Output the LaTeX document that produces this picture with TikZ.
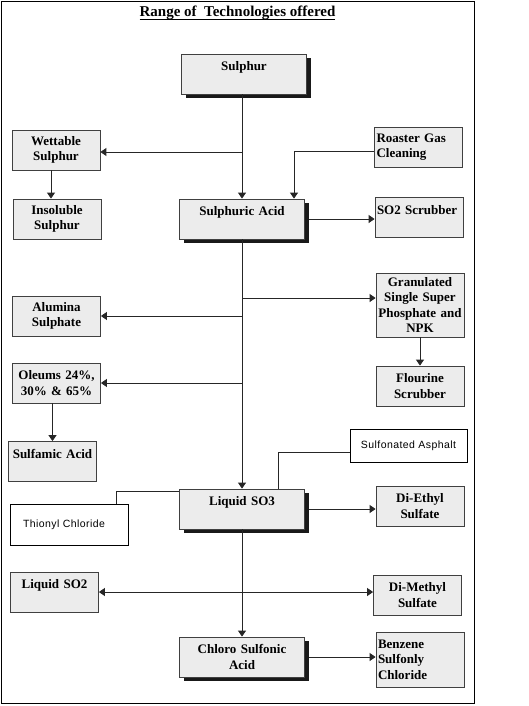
\documentclass[tikz,border=0pt]{standalone}
\usepackage{fontspec}
\setmainfont{Liberation Serif}
\newfontfamily\notesans[LetterSpace=4]{Liberation Sans}
\usetikzlibrary{arrows.meta,positioning,shadows}
\definecolor{boxgray}{RGB}{236,236,236}
\newcommand{\titleul}[1]{\setbox0\hbox{#1}\rlap{\rule[-3.5pt]{\wd0}{1.4pt}}\box0}

\begin{document}
\begin{tikzpicture}[
  x=1pt,y=-1pt,>={Triangle[width=8pt,length=6pt]},
  item/.style={draw=black!75,line width=0.8pt,fill=boxgray,
    align=center,font=\bfseries\fontsize{13}{15.5}\selectfont,
    inner xsep=2pt,inner ysep=0pt,text width=84pt,minimum height=40pt},
  itemleft/.style={item,align=left},
  main/.style={item,text width=121pt,
    drop shadow={shadow xshift=4pt,shadow yshift=-4pt,opacity=1,fill=black!90}},
  note/.style={draw=black,line width=0.8pt,fill=white,align=center,
    font=\notesans\fontsize{10.5}{12}\selectfont,
    inner xsep=3pt,inner ysep=0pt,minimum height=33pt},
  link/.style={line width=0.9pt,draw=black!85}
]
\useasboundingbox (0,0) rectangle (528,706);
\draw[line width=0.8pt] (1,1) rectangle (474,703);
\node[anchor=base,font=\bfseries\fontsize{15}{18}\selectfont] (title) at (237.5,17)
  {\titleul{Range of~ Technologies offered}};

% upper part
\node[main]     (sulphur)   at (244,74)    {Sulphur\\\mbox{}};
\node[item]     (wettable)  at (56,150)    {Wettable\\Sulphur};
\node[itemleft] (roaster)   at (418.5,147) {Roaster Gas\\Cleaning};
\node[item]     (insoluble) at (57,219)    {Insoluble\\Sulphur};
\node[main]     (acid)      at (242,219)   {Sulphuric Acid\\\mbox{}};
\node[itemleft] (scrubber)  at (419,217.5) {SO2 Scrubber\\\mbox{}};

% middle part
\node[item,minimum height=64pt] (ssp) at (420,305)
  {Granulated\\Single Super\\Phosphate and\\NPK};
\node[item]     (alumina)   at (56.5,316)  {Alumina\\Sulphate};
\node[item]     (oleums)    at (56.5,383)  {Oleums 24\%,\\30\% \& 65\%};
\node[item]     (fluorine)  at (420,386)   {Flourine\\Scrubber};
\node[item]     (sulfamic)  at (52.5,461.5) {Sulfamic Acid\\\mbox{}};
\node[note,text width=111pt] (asphalt) at (408.5,445.5) {Sulfonated Asphalt};

% lower part
\node[main]     (so3)       at (242,509)   {Liquid SO3\\\mbox{}};
\node[note,align=left,inner xsep=13pt,text width=92pt,minimum height=41pt]
                (thionyl)   at (69,524.5)  {Thionyl Chloride};
\node[item]     (ethyl)     at (420,506)   {Di-Ethyl\\Sulfate};
\node[item]     (so2)       at (54.5,592)  {Liquid SO2\\\mbox{}};
\node[item]     (methyl)    at (417.5,595) {Di-Methyl\\Sulfate};
\node[main]     (chloro)    at (242,657)   {Chloro Sulfonic\\Acid};
\node[itemleft,minimum height=55pt] (benzene) at (420,659.5)
  {Benzene\\Sulfonly\\Chloride};

\draw[link,->] (sulphur.south -| acid.north) -- (acid.north);
\draw[link,->] ([yshift=-2pt]wettable.east -| acid.north) -- ([yshift=-2pt]wettable.east);
\draw[link,->] ([yshift=-4pt]roaster.west) -| ([xshift=52pt]acid.north);
\draw[link,->] ([xshift=-5pt]wettable.south) -- ([xshift=-5pt]wettable.south |- insoluble.north);
\draw[link,->] ([xshift=4pt]acid.east) -- (acid.east -| scrubber.west);
\draw[link,->] (acid.south) -- (so3.north);
\draw[link,->] ([yshift=7pt]ssp.west -| acid.south) -- ([yshift=7pt]ssp.west);
\draw[link,->] (alumina.east -| acid.south) -- (alumina.east);
\draw[link,->] (oleums.east -| acid.south) -- (oleums.east);
\draw[link,->] (ssp.south) -- (fluorine.north);
\draw[link,->] (sulfamic.north |- oleums.south) -- (sulfamic.north);
\draw[link] ([yshift=-7pt]asphalt.west) -| ([xshift=36pt]so3.north);
\draw[link] ([yshift=-3pt]so3.north west) -| ([xshift=47pt]thionyl.north);
\draw[link,->] ([xshift=4pt]so3.east) -- (so3.east -| ethyl.west);
\draw[link,->] (so3.south) -- (chloro.north);
\coordinate (fork) at (so3.south |- so2.east);
\draw[link,->] (fork) -- (so2.east);
\draw[link,->] (fork) -- (fork -| methyl.west);
\draw[link,->] ([xshift=4pt]chloro.east) -- (chloro.east -| benzene.west);
\end{tikzpicture}
\end{document}
